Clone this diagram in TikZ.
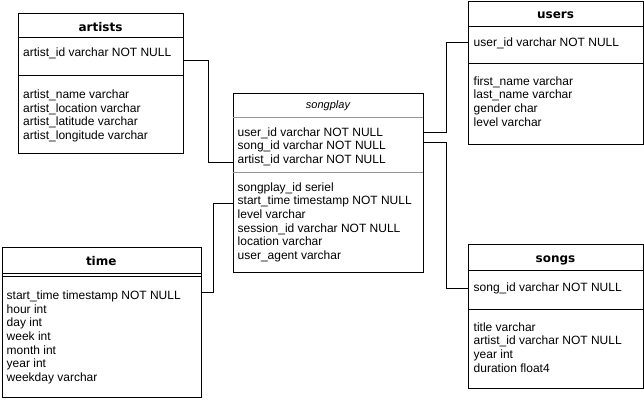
\documentclass[tikz,border=0pt]{standalone}
\usepackage{fontspec}
\setmainfont{Liberation Sans}
\newfontfamily\titlefamily{DejaVu Sans}
\definecolor{sepgray}{RGB}{150,150,150}
\begin{document}
\begin{tikzpicture}[x=1pt,y=-1pt,
  tbl/.style={draw, line width=1pt, inner sep=0pt, anchor=north west, fill=white},
  row/.style={anchor=west, inner sep=0pt, font=\fontsize{12}{14}\selectfont, text height=8.6pt, text depth=0pt},
  ttl/.style={anchor=base, inner sep=0pt, font=\titlefamily\bfseries\fontsize{12}{14}\selectfont},
  ittl/.style={anchor=base, inner sep=0pt, font=\itshape\fontsize{11}{13}\selectfont},
  sepline/.style={line width=1pt},
  graysep/.style={line width=1pt, draw=sepgray},
  conn/.style={line width=1pt}]
\useasboundingbox[fill=white] (0,0) rectangle (644,401);

% ---------------- artists
\node[tbl, minimum width=165pt, minimum height=140pt] (artists) at (18,13) {};
\node[ttl] (artistsT) at (100.5,31.5) {artists};
\draw[sepline] (18,38) -- (183,38);
\node[row] (a0) at (23,52) {artist\_id varchar NOT NULL};
\draw[sepline] (18,76) -- (183,76);
\node[row] (a1) at (23,94) {artist\_name varchar};
\node[row] (a2) at (23,107.7) {artist\_location varchar};
\node[row] (a3) at (23,121.4) {artist\_latitude varchar};
\node[row] (a4) at (23,135.1) {artist\_longitude varchar};

% ---------------- songplay
\node[tbl, minimum width=190pt, minimum height=179pt] (songplay) at (233,93) {};
\node[ittl] (songplayT) at (328,108) {songplay};
\draw[graysep] (233,117) -- (423,117);
\node[row] (p0) at (237.5,131.7) {user\_id varchar NOT NULL};
\node[row] (p1) at (237.5,145.4) {song\_id varchar NOT NULL};
\node[row] (p2) at (237.5,159.1) {artist\_id varchar NOT NULL};
\draw[graysep] (233,172) -- (423,172);
\node[row] (p3) at (237.5,186.7) {songplay\_id seriel};
\node[row] (p4) at (237.5,200.4) {start\_time timestamp NOT NULL};
\node[row] (p5) at (237.5,214.1) {level varchar};
\node[row] (p6) at (237.5,227.8) {session\_id varchar NOT NULL};
\node[row] (p7) at (237.5,241.5) {location varchar};
\node[row] (p8) at (237.5,255.2) {user\_agent varchar};

% ---------------- users
\node[tbl, minimum width=175pt, minimum height=143pt] (users) at (468,1) {};
\node[ttl] (usersT) at (555.5,19) {users};
\draw[sepline] (468,26.5) -- (643,26.5);
\node[row] (u0) at (473.5,42) {user\_id varchar NOT NULL};
\draw[sepline] (468,64) -- (643,64);
\node[row] (u1) at (473.5,81) {first\_name varchar};
\node[row] (u2) at (473.5,94.7) {last\_name varchar};
\node[row] (u3) at (473.5,108.4) {gender char};
\node[row] (u4) at (473.5,122.1) {level varchar};

% ---------------- songs
\node[tbl, minimum width=175pt, minimum height=143.5pt] (songs) at (468,244.3) {};
\node[ttl] (songsT) at (555.5,262) {songs};
\draw[sepline] (468,270.5) -- (643,270.5);
\node[row] (s0) at (473.5,286.7) {song\_id varchar NOT NULL};
\draw[sepline] (468,309) -- (643,309);
\node[row] (s1) at (473.5,326.7) {title varchar};
\node[row] (s2) at (473.5,340.4) {artist\_id varchar NOT NULL};
\node[row] (s3) at (473.5,354.1) {year int};
\node[row] (s4) at (473.5,367.8) {duration float4};

% ---------------- time
\node[tbl, minimum width=199.5pt, minimum height=150pt] (time) at (1.5,247) {};
\node[ttl] (timeT) at (101.25,265.5) {time};
\draw[sepline] (1.5,273) -- (201,273);
\draw[sepline] (1.5,276.5) -- (201,276.5);
\node[row] (t0) at (6.5,295) {start\_time timestamp NOT NULL};
\node[row] (t1) at (6.5,308.7) {hour int};
\node[row] (t2) at (6.5,322.4) {day int};
\node[row] (t3) at (6.5,336.1) {week int};
\node[row] (t4) at (6.5,349.8) {month int};
\node[row] (t5) at (6.5,363.5) {year int};
\node[row] (t6) at (6.5,377.2) {weekday varchar};

% ---------------- connector end points
\coordinate (artistsOut) at (183,61);
\coordinate (spArtIn) at (233,162);
\coordinate (timeOut) at (201,292);
\coordinate (spTimeIn) at (233,203);
\coordinate (spUserOut) at (423,132);
\coordinate (usersIn) at (468,43);
\coordinate (spSongOut) at (423,142);
\coordinate (songsIn) at (468,288);

% ---------------- connectors
\draw[conn] (artistsOut) -- (208.3,61) -- (208.3,162) -- (spArtIn);
\draw[conn] (timeOut) -- (213.5,292) -- (213.5,203) -- (spTimeIn);
\draw[conn] (spUserOut) -- (446.5,132) -- (446.5,43) -- (usersIn);
\draw[conn] (spSongOut) -- (446.5,142) -- (446.5,288) -- (songsIn);
\end{tikzpicture}
\end{document}
